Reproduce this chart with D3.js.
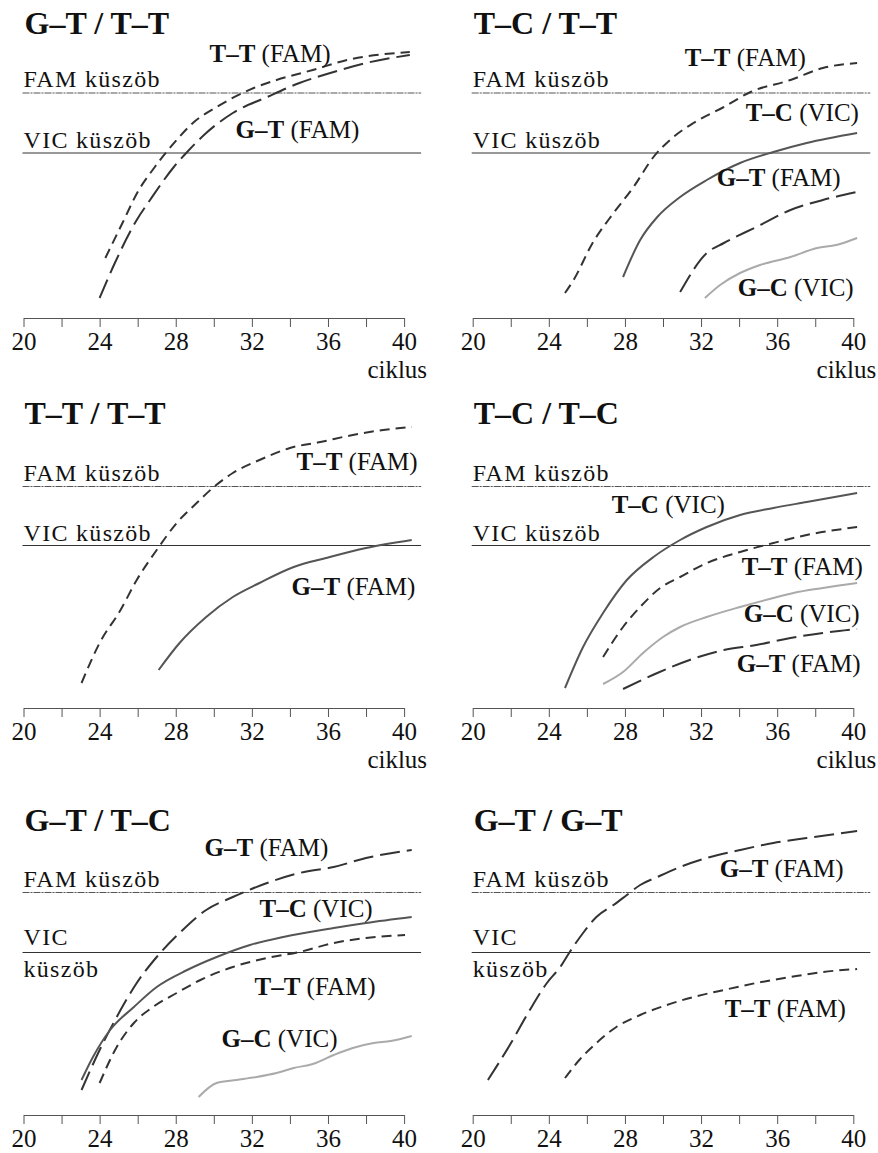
<!DOCTYPE html>
<html>
<head>
<meta charset="utf-8">
<script src="https://cdn.jsdelivr.net/npm/d3@7"></script>
<style>
  body { margin: 0; background: #fff; }
  text { font-family: "Liberation Serif", "Times New Roman", serif; fill: #111; }
</style>
</head>
<body>
<div id="chart"></div>
<script>
// cycles on the x axis
var xMinorTicks = [20, 22, 24, 26, 28, 30, 32, 34, 36, 38, 40];
var xTickLabels = [20, 24, 28, 32, 36, 40];

// panel titles
var titles = ["G–T / T–T", "T–C / T–T", "T–T / T–T", "T–C / T–C", "G–T / T–C", "G–T / G–T"];

// thresholds (fluorescence, same units as the curves)
var famThreshold = [225, 225, 221.5, 221.5, 222.5, 222.5];
var vicThreshold = [165, 165, 162.5, 162.5, 162.5, 162.5];

// curves: [cycle, fluorescence]
var p1_TT = [[24.3,60],[25.2,95],[26.0,126],[26.9,151],[28.05,178],[28.9,195],[30.15,211],[32.1,230],[33.3,238],[35.2,248],[37.0,258],[40.3,266]];
var p1_GT = [[24.0,20],[24.8,55],[25.95,98],[26.65,118],[27.9,151],[28.6,166],[29.6,185],[31.0,205],[32.8,221],[34.5,235],[36.3,246],[38.0,255],[40.3,263]];

var p2_TT = [[24.85,25],[25.3,38],[26.3,75],[27.4,105],[28.45,131],[29.5,161],[30.55,181],[31.6,195],[33.2,211],[34.6,226],[36.7,238],[38.4,250],[40.2,255]];
var p2_TC = [[27.9,41],[28.8,78],[29.7,101],[30.9,121],[32.3,138],[34.05,155],[35.8,166],[37.55,175],[40.2,185]];
var p2_GT = [[30.9,26],[32.3,65],[33.2,75],[34.9,91],[36.7,108],[38.4,118],[40.2,126]];
var p2_GC = [[32.2,20],[33.0,33],[34.05,45],[35.1,53],[36.7,61],[38.1,70],[39.1,73],[40.2,80]];

var p3_TT = [[23.05,25],[24.0,65],[25.1,98],[25.95,128],[27.0,158],[28.05,185],[29.1,205],[30.0,221],[31.0,235],[32.4,248],[34.0,260],[35.6,266],[37.3,273],[38.9,278],[40.4,281]];
var p3_GT = [[27.1,38],[28.2,65],[29.6,91],[31.0,111],[32.4,125],[34.2,141],[35.9,150],[38.0,160],[40.4,168]];

var p4_TC = [[24.85,20],[25.8,61],[26.85,95],[28.1,128],[29.5,151],[30.9,168],[32.3,181],[34.05,193],[35.8,200],[37.55,206],[40.2,215]];
var p4_TT = [[26.85,51],[27.9,81],[28.8,101],[29.85,120],[30.9,131],[32.3,145],[34.05,156],[35.8,165],[37.55,173],[40.2,181]];
var p4_GC = [[26.85,24],[27.9,36],[28.95,55],[30.0,71],[30.9,81],[32.3,91],[34.05,101],[35.8,110],[36.85,115],[38.4,120],[40.2,125]];
var p4_GT = [[27.9,19],[29.7,35],[31.4,48],[33.2,58],[34.9,63],[36.7,70],[38.4,75],[40.2,79]];

var p5_GT = [[23.05,25],[24.0,65],[24.9,98],[25.95,132],[27.0,158],[28.2,182],[29.6,205],[31.0,218],[32.8,232],[34.5,242],[36.3,248],[38.0,257],[40.4,265]];
var p5_TC = [[23.05,35],[23.65,58],[24.55,85],[25.8,108],[27.0,128],[28.6,145],[30.15,158],[31.9,170],[33.65,178],[36.3,187],[38.0,192],[40.4,198]];
var p5_TT = [[24.0,32],[24.9,68],[25.8,92],[26.8,108],[28.05,122],[29.3,135],[31.0,148],[32.8,157],[34.5,163],[36.3,172],[38.0,177],[40.05,180]];
var p5_GC = [[29.2,18],[30.15,32],[31.2,35],[32.25,38],[33.3,42],[34.2,47],[35.2,51],[36.3,60],[37.3,67],[38.4,72],[39.3,74],[40.4,79]];

var p6_GT = [[20.8,35],[21.95,70],[23.0,105],[23.9,132],[24.6,148],[25.1,163],[25.8,182],[26.5,198],[27.4,210],[28.1,220],[28.8,230],[29.7,238],[30.9,248],[32.3,257],[34.05,265],[35.8,272],[37.55,277],[40.2,284]];
var p6_TT = [[24.85,37],[25.6,55],[26.5,72],[27.55,88],[28.8,100],[30.2,110],[31.6,118],[33.2,125],[34.9,132],[36.7,138],[38.4,143],[40.2,146]];

// line looks
var styles = {
  shortDash: { stroke: "#333", width: 2, dash: "10,6" },
  longDash:  { stroke: "#333", width: 2, dash: "20,7" },
  solid:     { stroke: "#555", width: 2, dash: null },
  light:     { stroke: "#aaa", width: 2, dash: null }
};

// layout of the six panels; label positions relative to (x of 20, axis line)
var panels = [
  { x0: 23.5, axisY: 318, ciklus: true, vicSplit: false, series: [
    { data: p1_TT, style: "shortDash", bold: "T–T", rest: " (FAM)", lx: 186, ly: -256 },
    { data: p1_GT, style: "longDash",  bold: "G–T", rest: " (FAM)", lx: 212, ly: -180 } ] },
  { x0: 472.7, axisY: 318, ciklus: true, vicSplit: false, series: [
    { data: p2_TT, style: "shortDash", bold: "T–T", rest: " (FAM)", lx: 212, ly: -252 },
    { data: p2_TC, style: "solid",     bold: "T–C", rest: " (VIC)", lx: 273, ly: -197 },
    { data: p2_GT, style: "longDash",  bold: "G–T", rest: " (FAM)", lx: 244, ly: -132 },
    { data: p2_GC, style: "light",     bold: "G–C", rest: " (VIC)", lx: 265, ly: -22 } ] },
  { x0: 23.5, axisY: 708, ciklus: true, vicSplit: false, series: [
    { data: p3_TT, style: "shortDash", bold: "T–T", rest: " (FAM)", lx: 273, ly: -238 },
    { data: p3_GT, style: "solid",     bold: "G–T", rest: " (FAM)", lx: 268, ly: -113 } ] },
  { x0: 472.7, axisY: 708, ciklus: true, vicSplit: false, series: [
    { data: p4_TC, style: "solid",     bold: "T–C", rest: " (VIC)", lx: 139, ly: -195 },
    { data: p4_TT, style: "shortDash", bold: "T–T", rest: " (FAM)", lx: 269, ly: -133 },
    { data: p4_GC, style: "light",     bold: "G–C", rest: " (VIC)", lx: 271, ly: -86 },
    { data: p4_GT, style: "longDash",  bold: "G–T", rest: " (FAM)", lx: 264, ly: -36 } ] },
  { x0: 23.5, axisY: 1115, ciklus: false, vicSplit: true, series: [
    { data: p5_GT, style: "longDash",  bold: "G–T", rest: " (FAM)", lx: 181, ly: -259 },
    { data: p5_TC, style: "solid",     bold: "T–C", rest: " (VIC)", lx: 236, ly: -198 },
    { data: p5_TT, style: "shortDash", bold: "T–T", rest: " (FAM)", lx: 231, ly: -120 },
    { data: p5_GC, style: "light",     bold: "G–C", rest: " (VIC)", lx: 198, ly: -68 } ] },
  { x0: 472.7, axisY: 1115, ciklus: false, vicSplit: true, series: [
    { data: p6_GT, style: "longDash",  bold: "G–T", rest: " (FAM)", lx: 247, ly: -238 },
    { data: p6_TT, style: "shortDash", bold: "T–T", rest: " (FAM)", lx: 252, ly: -98 } ] }
];

var svg = d3.select("#chart").append("svg")
  .attr("width", 878)
  .attr("height", 1153);

panels.forEach(function(p, i) {
  var x = d3.scaleLinear().domain([20, 40]).range([p.x0, p.x0 + 380.6]);
  var y = d3.scaleLinear().domain([0, 300]).range([p.axisY, p.axisY - 300]);
  var g = svg.append("g");

  // title
  g.append("text")
    .text(titles[i])
    .attr("x", p.x0 + 1)
    .attr("y", p.axisY - 284)
    .style("font-size", "32px")
    .style("font-weight", "bold");

  // threshold lines
  var lineEnd = x(40) + 17;
  g.append("line")
    .attr("x1", p.x0 - 1).attr("x2", lineEnd)
    .attr("y1", y(famThreshold[i])).attr("y2", y(famThreshold[i]))
    .attr("stroke", "#555")
    .attr("stroke-width", 1)
    .attr("stroke-dasharray", "7,1,2,1");
  g.append("line")
    .attr("x1", p.x0 - 1).attr("x2", lineEnd)
    .attr("y1", y(vicThreshold[i])).attr("y2", y(vicThreshold[i]))
    .attr("stroke", "#333")
    .attr("stroke-width", 1);

  g.append("text")
    .text("FAM küszöb")
    .attr("x", p.x0)
    .attr("y", y(famThreshold[i]) - 6)
    .style("font-size", "24px")
    .style("letter-spacing", "1.3px");

  if (p.vicSplit) {
    g.append("text").text("VIC")
      .attr("x", p.x0).attr("y", y(vicThreshold[i]) - 8)
      .style("font-size", "24px").style("letter-spacing", "1.3px");
    g.append("text").text("küszöb")
      .attr("x", p.x0).attr("y", y(vicThreshold[i]) + 24)
      .style("font-size", "24px").style("letter-spacing", "1.3px");
  } else {
    g.append("text").text("VIC küszöb")
      .attr("x", p.x0).attr("y", y(vicThreshold[i]) - 5)
      .style("font-size", "24px").style("letter-spacing", "1.3px");
  }

  // curves
  var line = d3.line()
    .x(function(d) { return x(d[0]); })
    .y(function(d) { return y(d[1]); })
    .curve(d3.curveMonotoneX);

  p.series.forEach(function(s) {
    var st = styles[s.style];
    g.append("path")
      .attr("d", line(s.data))
      .attr("fill", "none")
      .attr("stroke", st.stroke)
      .attr("stroke-width", st.width)
      .attr("stroke-dasharray", st.dash);

    var t = g.append("text")
      .attr("x", p.x0 + s.lx)
      .attr("y", p.axisY + s.ly)
      .style("font-size", "25px");
    t.append("tspan").text(s.bold).style("font-weight", "bold");
    t.append("tspan").text(s.rest);
  });

  // x axis
  var axis = d3.axisBottom(x)
    .tickValues(xMinorTicks)
    .tickSize(9)
    .tickSizeOuter(0)
    .tickPadding(5)
    .tickFormat(function(d) { return xTickLabels.indexOf(d) >= 0 ? d : ""; });

  var ax = g.append("g")
    .attr("transform", "translate(0," + p.axisY + ")")
    .call(axis);
  ax.select(".domain").attr("stroke", "#555");
  ax.selectAll(".tick line").attr("stroke", "#555");
  ax.selectAll(".tick text")
    .style("font-size", "25px")
    .style("font-family", "'Liberation Serif', 'Times New Roman', serif")
    .attr("fill", "#111");

  if (p.ciklus) {
    g.append("text")
      .text("ciklus")
      .attr("x", x(40) + 23)
      .attr("y", p.axisY + 60)
      .attr("text-anchor", "end")
      .style("font-size", "25px");
  }
});
</script>
</body>
</html>
